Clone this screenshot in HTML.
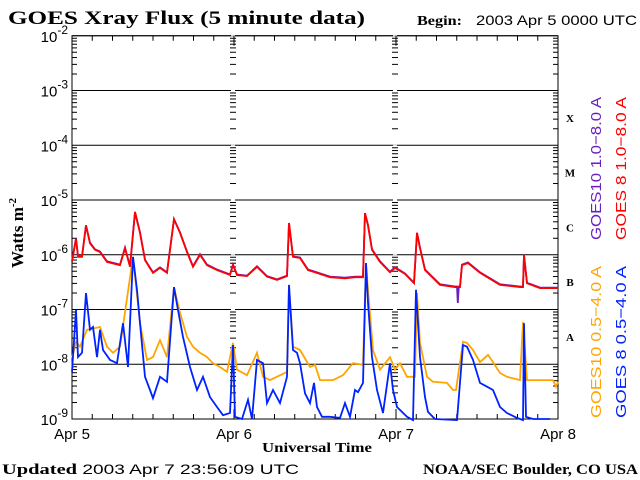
<!DOCTYPE html>
<html><head><meta charset="utf-8"><style>
html,body{margin:0;padding:0;background:#fff;}
svg{display:block;}
.serif{font-family:"Liberation Serif",serif;font-weight:bold;}
.sans{font-family:"Liberation Sans",sans-serif;}
</style></head><body>
<svg id="chart" width="640" height="480" viewBox="0 0 640 480" xmlns="http://www.w3.org/2000/svg">
<text class="serif" x="8" y="24" font-size="19" textLength="357" lengthAdjust="spacingAndGlyphs">GOES Xray Flux (5 minute data)</text>
<text class="serif" x="417" y="25" font-size="14" textLength="45" lengthAdjust="spacingAndGlyphs">Begin:</text>
<text class="sans" x="476" y="25" font-size="14" textLength="161" lengthAdjust="spacingAndGlyphs">2003 Apr 5 0000 UTC</text>
<text class="serif" font-size="17" transform="translate(23,233) rotate(-90)" text-anchor="middle">Watts m<tspan font-size="11" dy="-7">-2</tspan></text>
<text class="serif" x="262" y="452" font-size="14" textLength="110" lengthAdjust="spacingAndGlyphs">Universal Time</text>
<text x="2" y="474" font-size="15" textLength="297" lengthAdjust="spacingAndGlyphs"><tspan class="serif">Updated</tspan><tspan class="sans" font-size="14"> 2003 Apr  7 23:56:09 UTC</tspan></text>
<text class="serif" x="423" y="474" font-size="15" textLength="215" lengthAdjust="spacingAndGlyphs">NOAA/SEC Boulder, CO USA</text>
<text class="sans" font-size="15" fill="#6a1fc0" transform="translate(601,240) rotate(-90)" textLength="143" lengthAdjust="spacingAndGlyphs">GOES10 1.0−8.0 A</text>
<text class="sans" font-size="15" fill="#ff0000" transform="translate(626,240) rotate(-90)" textLength="143" lengthAdjust="spacingAndGlyphs">GOES 8 1.0−8.0 A</text>
<text class="sans" font-size="15" fill="#ffa500" transform="translate(601,418) rotate(-90)" textLength="152" lengthAdjust="spacingAndGlyphs">GOES10 0.5−4.0 A</text>
<text class="sans" font-size="15" fill="#0022ff" transform="translate(626,418) rotate(-90)" textLength="152" lengthAdjust="spacingAndGlyphs">GOES 8 0.5−4.0 A</text>
<g id="axes"></g>
<g id="series"></g>
</svg>
<script>
const dayLabels = ["Apr 5","Apr 6","Apr 7","Apr 8"];
const decades = [-2,-3,-4,-5,-6,-7,-8,-9];
const classLetters = ["X","M","C","B","A"];
const classDecades = [-3.5,-4.5,-5.5,-6.5,-7.5];

const g8LongHours = [0,0.59,0.89,1.48,2.07,2.67,3.41,4.15,5.19,7.11,7.85,8.59,9.33,10.07,10.81,12.0,13.04,14.07,15.11,16.0,17.04,17.93,18.96,20.0,21.48,23.41,23.85,24.44,25.93,27.41,28.89,30.37,31.85,32.15,32.74,33.78,34.96,36.0,38.22,40.44,41.93,43.11,43.41,43.85,44.44,45.63,47.11,47.85,49.33,50.67,51.11,51.56,52.30,54.52,56.74,57.48,57.78,58.67,60.44,63.41,66.37,66.81,66.96,67.41,69.33,72];
const g8LongLog = [-6.13,-5.71,-6.04,-6.04,-5.47,-5.79,-5.91,-5.95,-6.13,-6.19,-5.88,-6.22,-5.22,-5.60,-6.10,-6.33,-6.24,-6.33,-5.35,-5.60,-5.95,-6.22,-6.00,-6.19,-6.28,-6.37,-6.19,-6.37,-6.39,-6.22,-6.40,-6.46,-6.39,-5.42,-6.04,-6.06,-6.28,-6.32,-6.41,-6.43,-6.41,-6.41,-5.24,-5.46,-5.91,-6.13,-6.32,-6.24,-6.35,-6.52,-5.60,-5.88,-6.28,-6.55,-6.59,-6.59,-6.19,-6.15,-6.33,-6.55,-6.59,-6.59,-6.00,-6.52,-6.61,-6.61];

const g10LongHours = [0,0.59,0.89,1.48,2.07,2.67,3.41,4.15,5.19,7.11,7.85,8.59,9.33,10.07,10.81,12.0,13.04,14.07,15.11,16.0,17.04,17.93,18.96,20.0,21.48,23.41,23.85,24.44,25.93,27.41,28.89,30.37,31.85,32.15,32.74,33.78,34.96,36.0,38.22,40.44,41.93,43.11,43.41,43.85,44.44,45.63,47.11,47.85,49.33,50.67,51.11,51.56,52.30,54.52,56.74,57.04,57.15,57.3,57.48,57.78,58.67,60.44,63.41,66.37,66.81,66.96,67.41,69.33,72];
const g10LongLog = [-6.11,-5.70,-6.02,-6.03,-5.46,-5.78,-5.90,-5.94,-6.12,-6.18,-5.87,-6.21,-5.22,-5.59,-6.09,-6.32,-6.23,-6.32,-5.35,-5.59,-5.94,-6.21,-5.99,-6.18,-6.27,-6.36,-6.18,-6.36,-6.38,-6.21,-6.39,-6.45,-6.38,-5.42,-6.03,-6.05,-6.27,-6.31,-6.40,-6.42,-6.40,-6.40,-5.24,-5.46,-5.90,-6.12,-6.31,-6.23,-6.34,-6.51,-5.60,-5.87,-6.27,-6.54,-6.58,-6.58,-6.88,-6.58,-6.58,-6.18,-6.14,-6.32,-6.54,-6.58,-6.58,-6.01,-6.51,-6.60,-6.60];

const g8ShortHours = [0,0.59,0.89,1.48,2.07,2.67,3.11,3.70,4.15,4.59,5.63,6.67,7.56,8.30,9.04,9.63,10.07,10.81,11.56,12.0,13.04,14.07,15.11,15.70,16.44,17.48,18.52,19.41,20.44,21.48,22.37,23.41,23.85,24.15,25.19,26.07,26.67,27.41,28.30,28.89,29.78,30.81,31.85,32.15,32.74,33.33,33.78,34.52,35.26,35.85,36.30,37.04,38.22,39.70,40.44,41.19,41.93,42.37,43.11,43.56,43.85,44.44,45.19,46.07,47.11,47.56,48.15,49.63,50.52,50.96,51.56,52.30,52.74,53.78,57.04,57.93,58.52,59.41,60.44,61.48,62.37,63.41,64.44,65.93,66.81,66.96,67.26,68.30,70.81];
const g8ShortLog = [-8.14,-7.01,-7.87,-7.79,-6.70,-7.37,-7.32,-7.87,-7.37,-7.74,-7.92,-7.98,-7.25,-8.05,-6.04,-6.64,-7.25,-8.23,-8.47,-8.62,-8.23,-8.32,-6.59,-7.01,-7.50,-8.05,-8.47,-8.23,-8.60,-8.78,-8.93,-8.89,-7.65,-8.96,-9.0,-8.65,-9.0,-7.92,-7.98,-8.71,-8.47,-8.71,-8.23,-6.55,-7.74,-7.79,-7.98,-8.53,-8.71,-8.34,-8.78,-8.96,-8.96,-8.98,-8.71,-8.96,-8.47,-8.51,-8.34,-6.15,-6.88,-7.87,-8.47,-8.89,-7.98,-8.47,-8.78,-8.96,-9.02,-6.64,-7.87,-8.60,-8.87,-9.0,-9.02,-7.65,-7.68,-7.92,-8.34,-8.41,-8.47,-8.78,-8.89,-8.98,-9.02,-7.25,-8.96,-9.0,-9.0];

const g10ShortHours = [0,0.59,1.19,2.22,4.15,5.19,6.07,7.11,9.04,10.07,11.11,12.0,13.04,14.07,15.11,16.0,17.04,17.93,18.96,20.0,20.89,21.93,22.96,23.85,24.44,25.93,27.41,28.30,29.33,31.85,32.15,32.74,33.78,35.26,36.0,36.74,38.67,40.15,41.63,43.11,43.56,43.85,44.59,45.63,47.11,47.85,48.59,49.63,50.81,51.11,51.56,52.59,53.48,55.56,56.44,56.89,57.93,58.52,59.41,60.44,61.63,62.37,63.41,64.44,66.37,66.81,67.41,71.26,71.70,72];
const g10ShortLog = [-7.89,-7.59,-7.68,-7.37,-7.32,-7.68,-7.79,-7.68,-6.04,-7.25,-7.92,-7.87,-7.56,-7.87,-6.59,-7.06,-7.50,-7.68,-7.79,-7.87,-7.98,-8.05,-8.14,-7.61,-8.10,-8.20,-7.79,-8.23,-8.29,-8.14,-6.55,-7.68,-7.74,-8.05,-8.01,-8.29,-8.29,-8.20,-7.98,-8.01,-6.15,-6.64,-7.74,-8.10,-7.87,-8.10,-7.98,-8.23,-8.23,-6.70,-7.61,-8.23,-8.32,-8.34,-8.47,-8.47,-7.59,-7.61,-7.74,-7.96,-7.83,-7.96,-8.16,-8.23,-8.29,-7.23,-8.29,-8.29,-8.41,-8.32];

const X0 = 72, X1 = 558, YTOP = 35.75, DEC = 54.75, YBOT = YTOP + 7*DEC;
function xs(h){ return X0 + (X1 - X0) * h / 72; }
function ys(lg){ return YTOP + (-2 - lg) * DEC; }
const NS = "http://www.w3.org/2000/svg";
function mk(tag, attrs, parent){ const e = document.createElementNS(NS, tag); for (const k in attrs) e.setAttribute(k, attrs[k]); parent.appendChild(e); return e; }

const axes = document.getElementById('axes');
const frame = mk('rect', {x:X0, y:YTOP, width:X1-X0, height:YBOT-YTOP, fill:'none', stroke:'#000', 'stroke-width':1}, axes);



decades.forEach(function(d){
  const y = ys(d);
  const gl = mk('line', {x1:X0, x2:X1, y1:y, y2:y, stroke:'#000', 'stroke-width':1}, axes);
  
  
  const t = mk('text', {x:X0-4, y:y+6, 'font-size':15, 'text-anchor':'end', 'font-family':'Liberation Sans, sans-serif'}, axes);
  
  
  const t1 = mk('tspan', {}, t); t1.textContent = '10';
  const t2 = mk('tspan', {dy:-8, 'font-size':12}, t); t2.textContent = String(d);
  if (d > -9) {
    for (let m = 2; m <= 9; m++) {
      const yy = ys(d - 1 + Math.log10(m));
      [X0, 233, 395, X1].forEach(function(xx, i){
        const len = 5;
        const x1 = (i === 0) ? xx : (i === 3 ? xx - len : xx - 3);
        const x2 = (i === 0) ? xx + len : (i === 3 ? xx : xx + 3);
        mk('line', {x1:x1, x2:x2, y1:yy, y2:yy, stroke:'#000', 'stroke-width':1}, axes);
      });
    }
    [233,395].forEach(function(xx){ mk('line', {x1:xx-2, x2:xx+2, y1:y, y2:y, stroke:'#fff', 'stroke-width':1}, axes); });
  }
});

for (let h = 0; h <= 72; h += 3) {
  const x = xs(h);
  const len = (h % 24 === 0) ? 10 : 5;
  mk('line', {x1:x, x2:x, y1:YTOP, y2:YTOP+len, stroke:'#000', 'stroke-width':1}, axes);
  mk('line', {x1:x, x2:x, y1:YBOT, y2:YBOT-len, stroke:'#000', 'stroke-width':1}, axes);
}
dayLabels.forEach(function(lbl, i){
  const t = mk('text', {x:xs(i*24), y:439, 'font-size':15, 'text-anchor':'middle', 'font-family':'Liberation Sans, sans-serif'}, axes);
  
  
  t.textContent = lbl;
});
classLetters.forEach(function(c, i){
  const t = mk('text', {x:570, y:ys(classDecades[i])+4, 'font-size':11, 'text-anchor':'middle', 'font-family':'Liberation Serif, serif', 'font-weight':'bold'}, axes);
  
  
  t.textContent = c;
});

const series = document.getElementById('series');
function drawSeries(hours, logs, color, name){
  let d = '';
  for (let i = 0; i < hours.length; i++) {
    const lg = Math.max(-9.02, Math.min(-2, logs[i]));
    d += (i === 0 ? 'M' : 'L') + xs(hours[i]).toFixed(1) + ' ' + ys(lg).toFixed(1);
  }
  const p = mk('path', {d:d, fill:'none', stroke:color, 'stroke-width':1.8, 'stroke-linejoin':'miter'}, series);
  
  
}
drawSeries(g10ShortHours, g10ShortLog, '#ffa500', 'goes10-short-line');
drawSeries(g8ShortHours, g8ShortLog, '#0022ff', 'goes8-short-line');
drawSeries(g10LongHours, g10LongLog, '#6a1fc0', 'goes10-long-line');
drawSeries(g8LongHours, g8LongLog, '#ff0000', 'goes8-long-line');
</script>
</body></html>
